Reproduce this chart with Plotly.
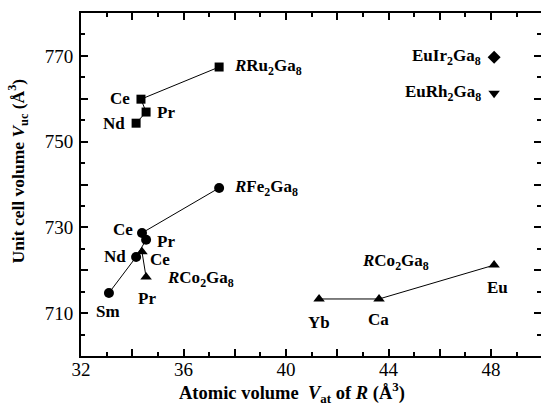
import plotly.graph_objects as go

# ---- data ----
ru_names = ["Nd", "Pr", "Ce", "La"]
ru_vat = [34.15, 34.54, 34.34, 37.39]
ru_vuc = [754.3, 756.9, 759.9, 767.4]

fe_names = ["Sm", "Nd", "Pr", "Ce", "La"]
fe_vat = [33.09, 34.15, 34.54, 34.38, 37.39]
fe_vuc = [714.7, 723.1, 727.1, 728.7, 739.2]

co1_names = ["Ce", "Pr"]
co1_vat = [34.38, 34.54]
co1_vuc = [724.3, 718.4]

co2_names = ["Yb", "Ca", "Eu"]
co2_vat = [41.29, 43.63, 48.12]
co2_vuc = [713.3, 713.3, 721.2]

euir_vat = [48.12]
euir_vuc = [769.7]
eurh_vat = [48.12]
eurh_vuc = [761.3]

x_tickvals = [32, 34, 36, 38, 40, 42, 44, 46, 48]
x_ticktext = ["32", "", "36", "", "40", "", "44", "", "48"]
y_tickvals = [700, 710, 720, 730, 740, 750, 760, 770, 780]
y_ticktext = ["", "710", "", "730", "", "750", "", "770", ""]

FONT = "Times New Roman, Liberation Serif, serif"

fig = go.Figure()

def series(x, y, symbol, size):
    fig.add_trace(go.Scatter(
        x=x, y=y, mode="lines+markers",
        line=dict(color="black", width=1),
        marker=dict(symbol=symbol, size=size, color="black"),
        showlegend=False, hoverinfo="skip"))

series(ru_vat, ru_vuc, "square", 9)
series(fe_vat, fe_vuc, "circle", 10)
series(co1_vat, co1_vuc, "triangle-up", 10)
series(co2_vat, co2_vuc, "triangle-up", 10)
series(euir_vat, euir_vuc, "diamond", 10)
series(eurh_vat, eurh_vuc, "triangle-down", 10)

def label(x, y, text, dx, dy, anchor="center"):
    fig.add_annotation(x=x, y=y, xref="x", yref="y", text="<b>%s</b>" % text,
                       showarrow=False, xshift=dx, yshift=dy, xanchor=anchor,
                       yanchor="middle",
                       font=dict(family=FONT, size=17, color="black"))

# RRu2Ga8 labels
ru_off = {"Nd": (-22, 0), "Pr": (20, 0), "Ce": (-21, 1)}
for n, x, y in zip(ru_names, ru_vat, ru_vuc):
    if n in ru_off:
        label(x, y, n, *ru_off[n])
label(ru_vat[3], ru_vuc[3], "<i>R</i>Ru<sub>2</sub>Ga<sub>8</sub>", 13, 0, "left")

# RFe2Ga8 labels
fe_off = {"Sm": (-1, -19), "Nd": (-21, 0), "Pr": (20, -2), "Ce": (-19, 3)}
for n, x, y in zip(fe_names, fe_vat, fe_vuc):
    if n in fe_off:
        label(x, y, n, *fe_off[n])
label(fe_vat[4], fe_vuc[4], "<i>R</i>Fe<sub>2</sub>Ga<sub>8</sub>", 13, 0, "left")

# RCo2Ga8 (left group)
co1_off = {"Ce": (18, -8), "Pr": (1, -21)}
for n, x, y in zip(co1_names, co1_vat, co1_vuc):
    label(x, y, n, *co1_off[n])
label(co1_vat[1], co1_vuc[1], "<i>R</i>Co<sub>2</sub>Ga<sub>8</sub>", 19, -2, "left")

# RCo2Ga8 (right group)
co2_off = {"Yb": (0, -24), "Ca": (-1, -21), "Eu": (3, -22)}
for n, x, y in zip(co2_names, co2_vat, co2_vuc):
    label(x, y, n, *co2_off[n])
label(co2_vat[1], co2_vuc[1], "<i>R</i>Co<sub>2</sub>Ga<sub>8</sub>", 16, 37)

label(euir_vat[0], euir_vuc[0], "EuIr<sub>2</sub>Ga<sub>8</sub>", -11, 0, "right")
label(eurh_vat[0], eurh_vuc[0], "EuRh<sub>2</sub>Ga<sub>8</sub>", -11, 0, "right")

# axis titles
fig.add_annotation(x=0.5, y=0, xref="paper", yref="paper", xanchor="center",
                   yanchor="middle", xshift=-19, yshift=-36,
                   text="<b>Atomic volume  <i>V</i><sub>at</sub> of <i>R</i> (Å<sup>3</sup>)</b>",
                   showarrow=False, font=dict(family=FONT, size=18.5, color="black"))
fig.add_annotation(x=0, y=0.5, xref="paper", yref="paper", xanchor="center",
                   yanchor="middle", xshift=-63, yshift=13, textangle=-90,
                   text="<b>Unit cell volume <i>V</i><sub>uc</sub> (Å<sup>3</sup>)</b>",
                   showarrow=False, font=dict(family=FONT, size=17.5, color="black"))

axis_common = dict(
    showgrid=False, zeroline=False, showline=True, linecolor="black", linewidth=2,
    mirror="ticks", ticks="inside", ticklen=7, tickwidth=2, tickcolor="black",
    tickfont=dict(family=FONT, size=19, color="black"), automargin=False,
)

fig.update_xaxes(
    range=[32, 49.95], tickmode="array", tickvals=x_tickvals, ticktext=x_ticktext,
    minor=dict(ticks="inside", dtick=1, ticklen=4, tickwidth=2, tickcolor="black"),
    ticklabelstandoff=-5,
    **axis_common)
fig.update_yaxes(
    range=[700, 780], tickmode="array", tickvals=y_tickvals, ticktext=y_ticktext,
    minor=dict(ticks="inside", dtick=5, ticklen=4, tickwidth=2, tickcolor="black"),
    ticklabelstandoff=2,
    **axis_common)

fig.update_layout(
    width=541, height=405,
    margin=dict(l=81, r=0, t=13, b=49),
    paper_bgcolor="white", plot_bgcolor="white",
    font=dict(family=FONT, color="black"),
)

fig.write_html("out.html", config={"displayModeBar": False},
               post_script="document.body.style.margin='0';document.body.style.padding='0';")
